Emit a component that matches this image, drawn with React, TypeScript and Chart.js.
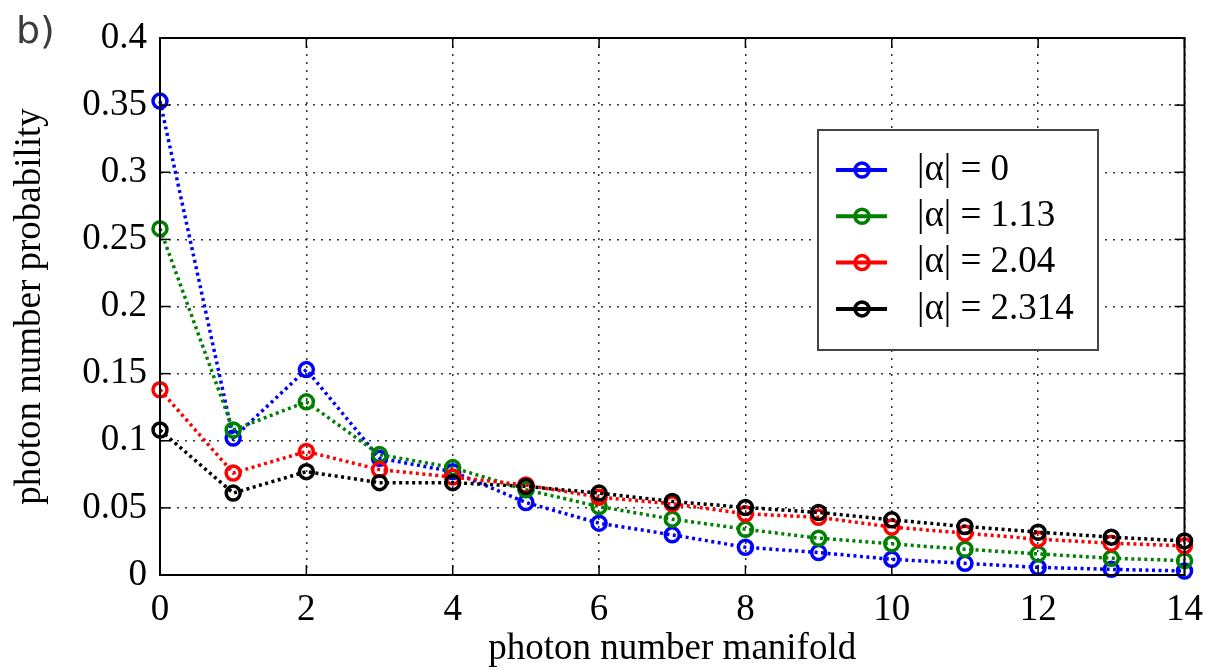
import React, { useEffect, useRef } from "react";
import { Chart, registerables } from "chart.js";

Chart.register(...registerables);

// ---- data ----
const photonNumbers = [0, 1, 2, 3, 4, 5, 6, 7, 8, 9, 10, 11, 12, 13, 14];
const seriesLabels = ["|α| = 0", "|α| = 1.13", "|α| = 2.04", "|α| = 2.314"];
const seriesColors = ["#0000ff", "#008000", "#ff0000", "#000000"];
const probAlpha0 = [0.353, 0.102, 0.153, 0.087, 0.077, 0.054, 0.0386, 0.0299, 0.0207, 0.0167, 0.0117, 0.0087, 0.0057, 0.0042, 0.003];
const probAlpha113 = [0.258, 0.108, 0.129, 0.0897, 0.080, 0.0635, 0.051, 0.0416, 0.0341, 0.0274, 0.0232, 0.0192, 0.0157, 0.0125, 0.0107];
const probAlpha204 = [0.138, 0.076, 0.092, 0.0785, 0.073, 0.067, 0.058, 0.053, 0.0456, 0.043, 0.0357, 0.0312, 0.0267, 0.0237, 0.0217];
const probAlpha2314 = [0.108, 0.061, 0.077, 0.0688, 0.0688, 0.066, 0.061, 0.0548, 0.0503, 0.0466, 0.0411, 0.0361, 0.0319, 0.0282, 0.0254];
const seriesValues = [probAlpha0, probAlpha113, probAlpha204, probAlpha2314];
const xTicks = [0, 2, 4, 6, 8, 10, 12, 14];
const yTicks = [0, 0.05, 0.1, 0.15, 0.2, 0.25, 0.3, 0.35, 0.4];
const xTitle = "photon number manifold";
const yTitle = "photon number probability";
const panelLabel = "b)";

const serif = '"Liberation Serif", "Times New Roman", Times, serif';

const overlayPlugin = {
  id: "matlabOverlay",
  afterDraw(chart: any) {
    const { ctx, chartArea: a, scales } = chart;
    ctx.save();
    ctx.setLineDash([]);
    ctx.strokeStyle = "#000";
    ctx.lineWidth = 1.5;
    const tl = 10;
    const seg = (x1: number, y1: number, x2: number, y2: number) => {
      ctx.beginPath();
      ctx.moveTo(x1, y1);
      ctx.lineTo(x2, y2);
      ctx.stroke();
    };
    xTicks.forEach((v) => {
      const px = scales.x.getPixelForValue(v);
      seg(px, a.bottom, px, a.bottom - tl);
      seg(px, a.top, px, a.top + tl);
    });
    yTicks.forEach((v) => {
      const py = scales.y.getPixelForValue(v);
      seg(a.left, py, a.left + tl, py);
      seg(a.right, py, a.right - tl, py);
    });
    ctx.lineWidth = 2;
    ctx.strokeRect(a.left, a.top, a.right - a.left, a.bottom - a.top);

    // legend
    const box = { left: 818, top: 130, right: 1098, bottom: 350 };
    ctx.fillStyle = "#ffffff";
    ctx.fillRect(box.left, box.top, box.right - box.left, box.bottom - box.top);
    ctx.strokeStyle = "#444";
    ctx.lineWidth = 2;
    ctx.strokeRect(box.left, box.top, box.right - box.left, box.bottom - box.top);
    const rowStart = box.top + 40;
    const rowGap = 46.3;
    seriesLabels.forEach((lbl, i) => {
      const y = rowStart + i * rowGap;
      ctx.strokeStyle = seriesColors[i];
      ctx.lineWidth = 4;
      seg(836, y, 887, y);
      ctx.lineWidth = 3.5;
      ctx.beginPath();
      ctx.arc(862, y, 7, 0, Math.PI * 2);
      ctx.stroke();
      ctx.fillStyle = "#000";
      ctx.font = `37px ${serif}`;
      ctx.textAlign = "left";
      ctx.textBaseline = "middle";
      ctx.fillText(lbl, 917, y);
    });

    // panel label
    ctx.fillStyle = "#3c3c3c";
    ctx.font = '38px "DejaVu Sans", sans-serif';
    ctx.textAlign = "left";
    ctx.textBaseline = "alphabetic";
    ctx.fillText(panelLabel, 16, 43);
    ctx.restore();
  },
};

export default function App() {
  const canvasRef = useRef<HTMLCanvasElement | null>(null);

  useEffect(() => {
    const canvas = canvasRef.current;
    if (!canvas) return;
    const datasets = seriesValues.map((vals, i) => ({
      label: seriesLabels[i],
      data: vals.map((y, k) => ({ x: photonNumbers[k], y })),
      borderColor: seriesColors[i],
      backgroundColor: "rgba(0,0,0,0)",
      borderWidth: 3.5,
      borderDash: [3, 3.5],
      pointRadius: 7,
      pointBorderWidth: 3.5,
      pointBorderColor: seriesColors[i],
      pointBackgroundColor: "rgba(0,0,0,0)",
      pointStyle: "circle",
      tension: 0,
      fill: false,
      clip: false,
      order: seriesValues.length - i,
    }));
    const chart = new Chart(canvas, {
      type: "line",
      data: { datasets },
      options: {
        animation: false,
        responsive: false,
        devicePixelRatio: 1,
        layout: { padding: { top: 38, right: 27, left: 0, bottom: 0 } },
        plugins: { legend: { display: false }, tooltip: { enabled: false } },
        scales: {
          x: {
            type: "linear",
            min: 0,
            max: 14,
            afterFit: (s: any) => {
              s.height = 95;
            },
            afterBuildTicks: (s: any) => {
              s.ticks = xTicks.map((v) => ({ value: v }));
            },
            ticks: {
              color: "#000",
              padding: 17,
              maxRotation: 0,
              font: { family: serif, size: 37, lineHeight: 1 },
              callback: (v: any) => String(v),
            },
            grid: { color: "#333", lineWidth: 1.5, drawTicks: false },
            border: { display: true, color: "#000", width: 2, dash: [2, 6] },
            title: {
              display: true,
              text: xTitle,
              color: "#000",
              font: { family: serif, size: 37, lineHeight: 1 },
              padding: { top: 0, bottom: 2 },
            },
          },
          y: {
            type: "linear",
            min: 0,
            max: 0.4,
            afterFit: (s: any) => {
              s.width = 160;
            },
            afterBuildTicks: (s: any) => {
              s.ticks = yTicks.map((v) => ({ value: v }));
            },
            ticks: {
              color: "#000",
              padding: 13,
              font: { family: serif, size: 37, lineHeight: 1 },
              callback: (v: any) => String(Math.round(Number(v) * 100) / 100),
            },
            grid: { color: "#333", lineWidth: 1.5, drawTicks: false },
            border: { display: true, color: "#000", width: 2, dash: [2, 6] },
            title: {
              display: true,
              text: yTitle,
              color: "#000",
              font: { family: serif, size: 37, lineHeight: 1 },
              padding: { top: 12, bottom: 0 },
            },
          },
        },
      },
      plugins: [overlayPlugin],
    } as any);
    return () => chart.destroy();
  }, []);

  return (
    <div style={{ position: "absolute", left: 0, top: 0, width: 1220, height: 670, background: "#fff" }}>
      <canvas ref={canvasRef} width={1220} height={670} style={{ display: "block", width: 1220, height: 670 }} />
    </div>
  );
}
